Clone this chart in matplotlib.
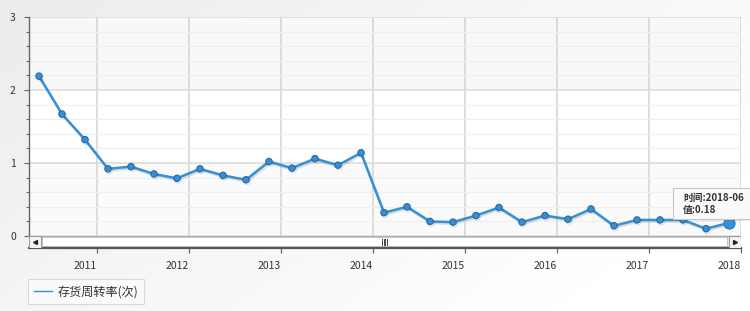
import numpy as np
import matplotlib
matplotlib.use("Agg")
import matplotlib.pyplot as plt
from matplotlib.patches import Rectangle, FancyBboxPatch
import matplotlib.patheffects as pe

plt.rcParams['font.family'] = ['Noto Sans CJK SC', 'DejaVu Sans']

# ---- data ----
dates = ['2010-12', '2011-03', '2011-06', '2011-09', '2011-12', '2012-03', '2012-06',
         '2012-09', '2012-12', '2013-03', '2013-06', '2013-09', '2013-12', '2014-03',
         '2014-06', '2014-09', '2014-12', '2015-03', '2015-06', '2015-09', '2015-12',
         '2016-03', '2016-06', '2016-09', '2016-12', '2017-03', '2017-06', '2017-09',
         '2017-12', '2018-03', '2018-06']
values = [2.19, 1.67, 1.32, 0.92, 0.95, 0.85, 0.79, 0.92, 0.83, 0.77, 1.02, 0.93,
          1.06, 0.97, 1.14, 0.32, 0.40, 0.20, 0.19, 0.28, 0.39, 0.19, 0.28, 0.23,
          0.37, 0.14, 0.22, 0.22, 0.22, 0.10, 0.18]
year_labels = ['2011', '2012', '2013', '2014', '2015', '2016', '2017', '2018']
series_name = '存货周转率(次)'

W, H = 750, 311
fig = plt.figure(figsize=(W / 100, H / 100), dpi=100)

def fx(px):
    return px / W

def fy(py):
    return 1 - py / H

# background gradient
bg = fig.add_axes([0, 0, 1, 1], zorder=-10)
gx = np.linspace(0, 1, 300)
gy = np.linspace(0, 1, 120)
GX, GY = np.meshgrid(gx, gy)
grad = 0.925 + 0.075 * np.clip(0.75 * GX + 0.45 * GY, 0, 1)
bg.imshow(np.dstack([grad, grad, grad]), aspect='auto', extent=[0, 1, 0, 1], origin='upper')
bg.set_axis_off()

# main axes
L, R, T, B = 29, 741, 17, 236
ax = fig.add_axes([fx(L), fy(B), fx(R - L), (B - T) / H])
x = np.arange(len(values))
px_per = 23.0
xlo = -(39 - L) / px_per
xhi = (len(values) - 1) + (R - 729) / px_per
ax.set_xlim(xlo, xhi)
ax.set_ylim(0, 3)
ax.set_facecolor('white')

# alternating bands
ax.axhspan(2, 3, color='#f8f8f8', zorder=0, lw=0)
ax.axhspan(0, 1, color='#fafafa', zorder=0, lw=0)

grid_pos = [xhi - 4 * k for k in range(len(year_labels))][::-1]
ax.set_xticks(grid_pos)
ax.tick_params(axis='x', length=0, labelbottom=False)
ax.set_yticks([0, 1, 2, 3])
ax.set_yticks(np.arange(0, 3.01, 0.2), minor=True)
ax.tick_params(axis='y', which='major', length=3.5, width=0.8, color='#666',
               labelsize=7.5, labelcolor='#333', pad=6)
ax.tick_params(axis='y', which='minor', length=2.5, width=0.8, color='#666')
ax.grid(axis='x', color='#d4d4d4', lw=1.1, zorder=1)
ax.grid(axis='y', which='major', color='#dadada', lw=1.1, zorder=1)
ax.grid(axis='y', which='minor', color='#eeeeee', lw=0.8, zorder=1)
ax.set_axisbelow(True)
for s in ['top', 'right', 'bottom']:
    ax.spines[s].set_visible(False)
ax.spines['left'].set_color('#666')
ax.spines['left'].set_linewidth(1.0)

line, = ax.plot(x, values, color='#3391d4', lw=1.8, marker='o', ms=4.6,
                mfc='#3a8fd0', mec='#2468a8', mew=0.8, zorder=5, label=series_name,
                path_effects=[pe.SimpleLineShadow(offset=(0.8, -1.2), alpha=0.12),
                              pe.Normal()])
ax.plot([x[-1]], [values[-1]], marker='o', ms=8, mfc='#3a8fd0', mec='#2a78c0',
        mew=0.8, zorder=6, ls='none')

# scrollbar axes with year labels
sb = fig.add_axes([fx(L), fy(248), fx(R - L), 12 / H])
sb.set_xlim(xlo, xhi)
sb.set_ylim(0, 1)
sb.patch.set_alpha(0)
for s in ['top', 'right', 'left']:
    sb.spines[s].set_visible(False)
sb.spines['bottom'].set_color('#555')
sb.spines['bottom'].set_linewidth(1.6)
sb.set_yticks([])
sb.set_xticks(grid_pos)
sb.set_xticklabels(year_labels)
sb.tick_params(axis='x', length=3.5, width=0.9, color='#666', labelsize=7.5,
               labelcolor='#333', pad=6)
for lab in sb.get_xticklabels():
    lab.set_ha('right')
# track
sb.add_patch(Rectangle((0, 0), 1, 1, transform=sb.transAxes, fc='#f4f4f4',
                       ec='#aaaaaa', lw=0.8, zorder=1))
# thumb
bw = 12 / (R - L)
sb.add_patch(FancyBboxPatch((bw + 0.002, 0.12), 1 - 2 * bw - 0.004, 0.76,
                            boxstyle='round,pad=0,rounding_size=0.004',
                            transform=sb.transAxes, fc='white', ec='#c8c8c8',
                            lw=0.8, zorder=2))
# buttons
for x0 in [0, 1 - bw]:
    sb.add_patch(Rectangle((x0, 0), bw, 1, transform=sb.transAxes, fc='#f4f4f4',
                           ec='#999999', lw=0.8, zorder=3))
sb.plot([bw / 2], [0.5], marker='<', ms=2.8, color='#222', transform=sb.transAxes,
        zorder=4, clip_on=False)
sb.plot([1 - bw / 2], [0.5], marker='>', ms=2.8, color='#222', transform=sb.transAxes,
        zorder=4, clip_on=False)
# grip
cx = (384.5 - L) / (R - L)
for k in range(4):
    gxk = cx + (k - 1.5) * 1.7 / (R - L)
    sb.plot([gxk, gxk], [0.25, 0.75], color='#444', lw=0.7, transform=sb.transAxes,
            zorder=4)

# legend
leg = fig.legend(handles=[line], labels=[series_name], loc='upper left',
                 bbox_to_anchor=(fx(28), fy(279)), bbox_transform=fig.transFigure,
                 fontsize=8.7, frameon=True, fancybox=False, handlelength=1.5,
                 handletextpad=0.45, borderpad=0.5, borderaxespad=0)
leg.get_frame().set_edgecolor('#d0d0d0')
leg.get_frame().set_facecolor('#fcfcfc')
leg.get_frame().set_linewidth(0.8)
for t in leg.get_texts():
    t.set_color('#333')
leg.legend_handles[0].set_marker('')
leg.legend_handles[0].set_linewidth(1.0)
leg.legend_handles[0].set_path_effects([])

# tooltip
tip = fig.add_axes([fx(673), fy(219), fx(80), 31 / H], zorder=20)
tip.set_xlim(0, 1)
tip.set_ylim(0, 1)
tip.set_axis_off()
tip.add_patch(Rectangle((0.03, -0.06), 1, 1.02, transform=tip.transAxes, fc='#000',
                        alpha=0.08, lw=0, clip_on=False))
tip.add_patch(Rectangle((0, 0), 1, 1, transform=tip.transAxes, fc='#fafafa',
                        ec='#c8c8c8', lw=0.8, clip_on=False))
tip.text(0.125, 0.68, '时间:' + dates[-1], fontsize=7, fontweight='bold', color='#333',
         va='center', ha='left', transform=tip.transAxes)
tip.text(0.125, 0.31, '值:%.2f' % values[-1], fontsize=7, fontweight='bold', color='#333',
         va='center', ha='left', transform=tip.transAxes)

fig.savefig('out.png', dpi=100)
